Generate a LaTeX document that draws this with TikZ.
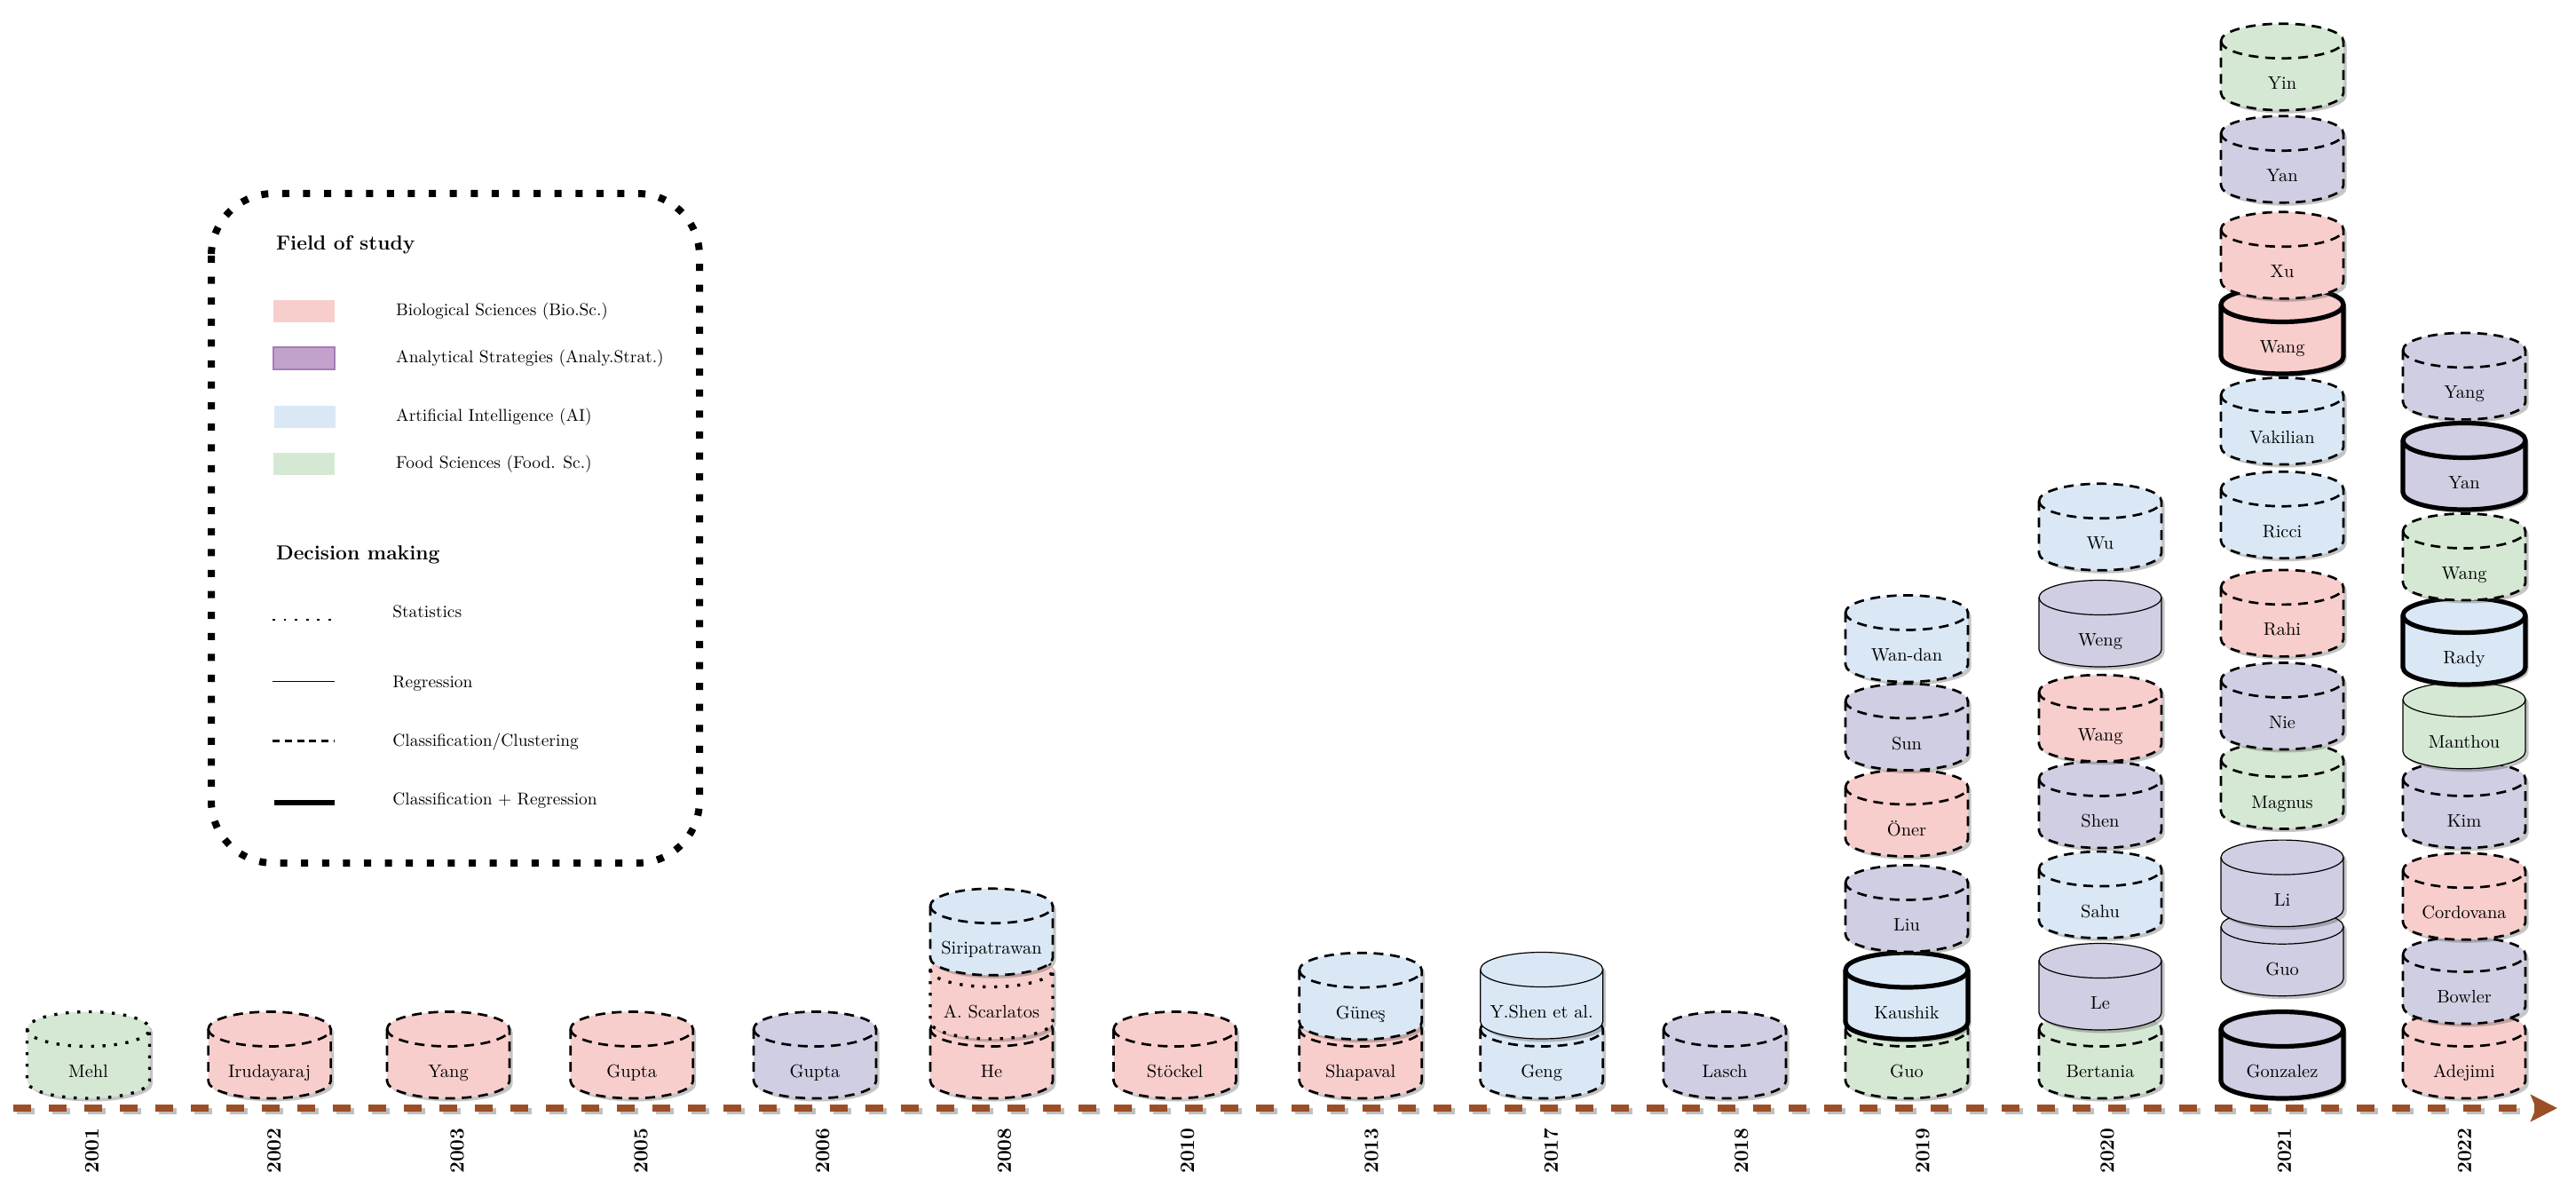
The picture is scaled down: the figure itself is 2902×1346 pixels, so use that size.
\documentclass[tikz,border=0pt]{standalone}
\usepackage{fontspec}
\usetikzlibrary{arrows.meta}
\definecolor{pinkc}{HTML}{F8CECC}
\definecolor{bluec}{HTML}{DAE8F6}
\definecolor{greenc}{HTML}{D5E8D4}
\definecolor{purplec}{HTML}{D0CEE2}
\definecolor{legpurple}{HTML}{C2A2CB}
\definecolor{legpurpleb}{HTML}{A67CB8}
\definecolor{axisc}{HTML}{9C4F27}
\definecolor{shadowc}{HTML}{303030}
\tikzset{
  clsline/.style={draw=black,line width=1.35pt,dash pattern=on 5.5pt off 3.8pt},
  statline/.style={draw=black,line width=1.7pt,dash pattern=on 1.7pt off 4.8pt},
  regline/.style={draw=black,line width=0.6pt},
  bothline/.style={draw=black,line width=2.6pt},
  cyltext/.style={font=\fontsize{10.2}{12}\selectfont,anchor=base,inner sep=0pt},
  yeartext/.style={font=\fontsize{11.4}{13}\selectfont\bfseries,rotate=90,inner sep=0pt},
  legtitle/.style={font=\fontsize{11.4}{14}\selectfont\bfseries,anchor=west,inner sep=0pt},
  legtext/.style={font=\fontsize{9.7}{12}\selectfont,anchor=west,inner sep=0pt,text height=1.5ex,text depth=.25ex},
  legbox/.style={draw=black,line width=4pt,dash pattern=on 4pt off 7.8pt,rounded corners=35pt},
  axisline/.style={draw=axisc,line width=3.7pt,dash pattern=on 10.15pt off 9.85pt},
  axisshadow/.style={draw=black!25,line width=3.7pt,dash pattern=on 10.15pt off 9.85pt},
}
\newcommand{\cylpath}[2]{(#1-69,#2+78) -- (#1-69,#2+19.5) arc[start angle=180,end angle=360,x radius=69,y radius=19.5] -- (#1+69,#2+78) arc[start angle=0,end angle=180,x radius=69,y radius=19.5] -- cycle}
\newcommand{\cyl}[6]{%
  \pgfmathsetmacro\cylB{1346-#3}%
  \fill[shadowc,opacity=0.28,shift={(3.5,-3.5)}] \cylpath{#2}{\cylB};
  \fill[#4] \cylpath{#2}{\cylB};
  \draw[#5] \cylpath{#2}{\cylB};
  \draw[#5] (#2-69,\cylB+78) arc[start angle=180,end angle=360,x radius=69,y radius=19.5];
  \node[cyltext] (#1) at (#2,\cylB+23.5) {#6};
}
\begin{document}
\begin{tikzpicture}[x=0.5pt,y=0.5pt]
\useasboundingbox (0,0) rectangle (2902,1346);
\fill[white] (0,0) rectangle (2902,1346);

% legend
\draw[legbox] (238,1128) rectangle (788,374);
\node[legtitle] (lt1) at (310.7,1070.3) {Field of study};
\fill[pinkc] (308,983) rectangle (377,1008);
\filldraw[fill=legpurple,draw=legpurpleb,line width=0.6pt] (308,930) rectangle (377,955);
\fill[bluec] (309,864) rectangle (378,889);
\fill[greenc] (308,811) rectangle (377,836);
\node[legtext] (lf1) at (445.8,995.5) {Biological Sciences (Bio.Sc.)};
\node[legtext] (lf2) at (445.8,942.5) {Analytical Strategies (Analy.Strat.)};
\node[legtext] (lf3) at (445.8,876.5) {Artificial Intelligence (AI)};
\node[legtext] (lf4) at (445.8,823.5) {Food Sciences (Food. Sc.)};
\node[legtitle] (lt2) at (310.7,721.4) {Decision making};
\draw[draw=black,line width=1.4pt,dash pattern=on 1.4pt off 4.9pt] (307,648) -- (377,648);
\draw[draw=black,line width=0.5pt] (307,579) -- (377,579);
\draw[draw=black,line width=1.5pt,dash pattern=on 4pt off 2.9pt] (307,512) -- (377,512);
\draw[draw=black,line width=2.6pt] (309,442) -- (377,442);
\node[legtext] (ld1) at (442,656) {Statistics};
\node[legtext] (ld2) at (442,577) {Regression};
\node[legtext] (ld3) at (442,511) {Classification/Clustering};
\node[legtext] (ld4) at (442,445.3) {Classification + Regression};

% axis
\coordinate (axs) at (15,98);
\coordinate (axe) at (2881,98);
\coordinate (axss) at (18.5,94.5);
\coordinate (axse) at (2850,94.5);
\draw[axisshadow] (axss) -- (axse);
\draw[axisline,-{Stealth[length=15pt,width=15pt,inset=3pt]}] (axs) -- (axe);

% cylinders
\cyl{c01a}{99.5}{1237}{greenc}{statline}{Mehl}
\cyl{c02a}{303.6}{1237}{pinkc}{clsline}{Irudayaraj}
\cyl{c03a}{505}{1237}{pinkc}{clsline}{Yang}
\cyl{c05a}{711.7}{1237}{pinkc}{clsline}{Gupta}
\cyl{c06a}{918}{1237}{purplec}{clsline}{Gupta}
\cyl{c08a}{1117}{1237}{pinkc}{clsline}{He}
\cyl{c08b}{1117}{1170}{pinkc}{statline}{A. Scarlatos}
\cyl{c08c}{1117}{1098.3}{bluec}{clsline}{Siripatrawan}
\cyl{c10a}{1323.5}{1237}{pinkc}{clsline}{Stöckel}
\cyl{c13a}{1532.7}{1237}{pinkc}{clsline}{Shapaval}
\cyl{c13b}{1532.7}{1170.7}{bluec}{clsline}{Güneş}
\cyl{c17a}{1736.7}{1237}{bluec}{clsline}{Geng}
\cyl{c17b}{1736.7}{1170}{bluec}{regline}{Y.Shen et al.}
\cyl{c18a}{1943}{1237}{purplec}{clsline}{Lasch}
% 2019
\cyl{c19a}{2148}{1237}{greenc}{clsline}{Guo}
\cyl{c19b}{2148}{1170.5}{bluec}{bothline}{Kaushik}
\cyl{c19c}{2148}{1072}{purplec}{clsline}{Liu}
\cyl{c19d}{2148}{964.5}{pinkc}{clsline}{Öner}
\cyl{c19e}{2148}{867.5}{purplec}{clsline}{Sun}
\cyl{c19f}{2148}{768}{bluec}{clsline}{Wan-dan}
% 2020
\cyl{c20a}{2366}{1237}{greenc}{clsline}{Bertania}
\cyl{c20b}{2366}{1160}{purplec}{regline}{Le}
\cyl{c20c}{2366}{1056.6}{bluec}{clsline}{Sahu}
\cyl{c20d}{2366}{955}{purplec}{clsline}{Shen}
\cyl{c20e}{2366}{857.6}{pinkc}{clsline}{Wang}
\cyl{c20f}{2366}{751}{purplec}{regline}{Weng}
\cyl{c20g}{2366}{642.3}{bluec}{clsline}{Wu}
% 2021
\cyl{c21a}{2571}{1237}{purplec}{bothline}{Gonzalez}
\cyl{c21b}{2571}{1121.7}{purplec}{regline}{Guo}
\cyl{c21c}{2571}{1043.6}{purplec}{regline}{Li}
\cyl{c21d}{2571}{933.5}{greenc}{clsline}{Magnus}
\cyl{c21e}{2571}{844}{purplec}{clsline}{Nie}
\cyl{c21f}{2571}{739.4}{pinkc}{clsline}{Rahi}
\cyl{c21g}{2571}{628.7}{bluec}{clsline}{Ricci}
\cyl{c21h}{2571}{523}{bluec}{clsline}{Vakilian}
\cyl{c21i}{2571}{421}{pinkc}{bothline}{Wang}
\cyl{c21j}{2571}{336.3}{pinkc}{clsline}{Xu}
\cyl{c21k}{2571}{228.2}{purplec}{clsline}{Yan}
\cyl{c21l}{2571}{124.2}{greenc}{clsline}{Yin}
% 2022
\cyl{c22a}{2776}{1237}{pinkc}{clsline}{Adejimi}
\cyl{c22b}{2776}{1153}{purplec}{clsline}{Bowler}
\cyl{c22c}{2776}{1058.3}{pinkc}{clsline}{Cordovana}
\cyl{c22d}{2776}{955}{purplec}{clsline}{Kim}
\cyl{c22e}{2776}{865.8}{greenc}{regline}{Manthou}
\cyl{c22f}{2776}{771}{bluec}{bothline}{Rady}
\cyl{c22g}{2776}{676}{greenc}{clsline}{Wang}
\cyl{c22h}{2776}{574}{purplec}{bothline}{Yan}
\cyl{c22i}{2776}{472.4}{purplec}{clsline}{Yang}

% years
\node[yeartext] (y01) at (103.6,50) {2001};
\node[yeartext] (y02) at (308.7,50) {2002};
\node[yeartext] (y03) at (515,50) {2003};
\node[yeartext] (y05) at (722,50) {2005};
\node[yeartext] (y06) at (926.7,50) {2006};
\node[yeartext] (y08) at (1131.6,50) {2008};
\node[yeartext] (y10) at (1337.8,50) {2010};
\node[yeartext] (y13) at (1545,50) {2013};
\node[yeartext] (y17) at (1747.4,50) {2017};
\node[yeartext] (y18) at (1961.7,50) {2018};
\node[yeartext] (y19) at (2166,50) {2019};
\node[yeartext] (y20) at (2374,50) {2020};
\node[yeartext] (y21) at (2573.6,50) {2021};
\node[yeartext] (y22) at (2776.5,50) {2022};
\end{tikzpicture}
\end{document}
